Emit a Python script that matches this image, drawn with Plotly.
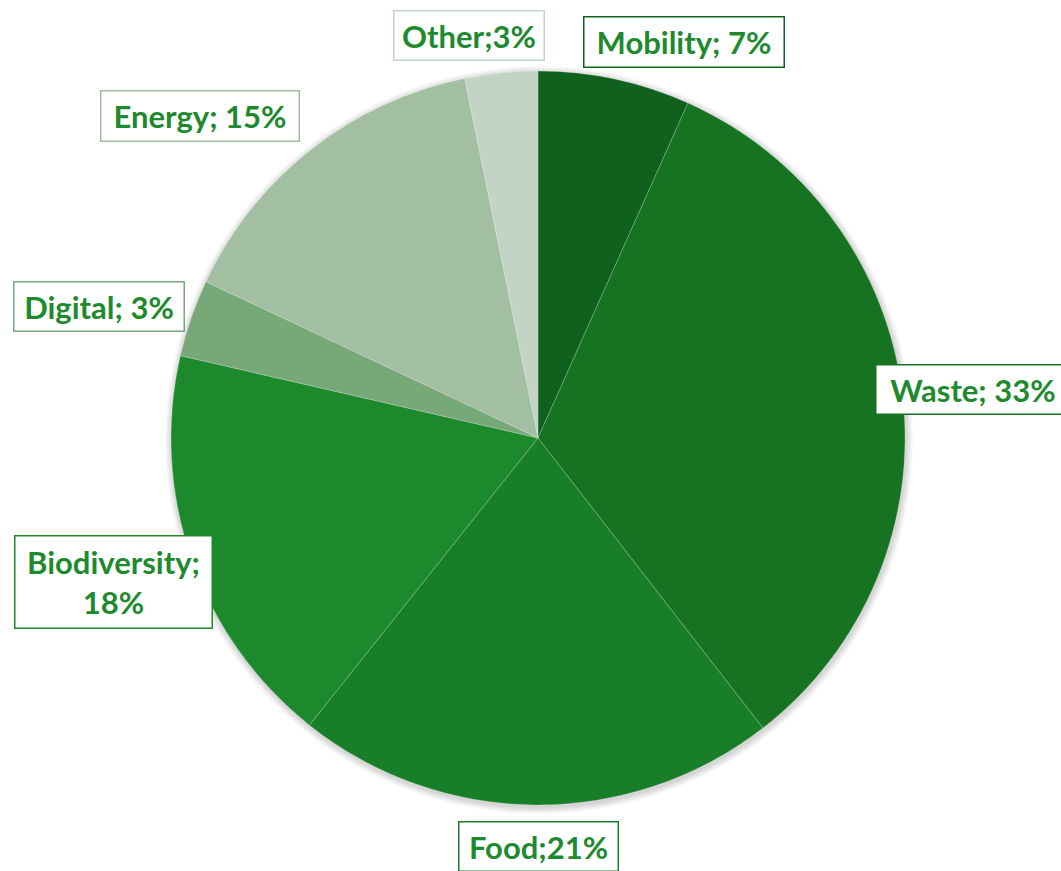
import plotly.graph_objects as go

categories = ["Mobility", "Waste", "Food", "Biodiversity", "Digital", "Energy", "Other"]
values = [6.7, 32.8, 21.2, 17.9, 3.4, 14.8, 3.2]
label_texts = ["Mobility; 7%", "Waste; 33%", "Food;21%", "Biodiversity;<br>18%",
               "Digital; 3%", "Energy; 15%", "Other;3%"]
slice_colors = ["#0F611D", "#167322", "#187E27", "#1C8A2C", "#77A877", "#A2BFA2", "#C2D5C5"]

W, H = 1061, 871
cx, cy, r = 538, 438, 367

fig = go.Figure()

# soft shadow behind the pie
for i in range(1, 8):
    rr = r + i
    fig.add_shape(type="circle", xref="paper", yref="paper", layer="below",
                  x0=(cx - rr + 1) / W, x1=(cx + rr + 1) / W,
                  y0=1 - (cy + rr + 2) / H, y1=1 - (cy - rr + 2) / H,
                  fillcolor="rgba(0,0,0,0.025)", line=dict(width=0))

fig.add_trace(go.Pie(
    labels=categories, values=values, sort=False, direction="clockwise", rotation=0,
    marker=dict(colors=slice_colors, line=dict(color="rgba(255,255,255,0.3)", width=0.7)),
    textinfo="none", hoverinfo="label+percent", showlegend=False,
    domain=dict(x=[(cx - r) / W, (cx + r) / W], y=[(H - cy - r) / H, (H - cy + r) / H]),
))

# label boxes: centre x, centre y, width, height in pixels (layout only)
label_boxes = [(684, 42, 202, 52), (973, 389, 196, 51), (538, 846, 161, 51),
               (113, 582, 199, 94), (99, 307, 172, 51), (200, 116, 200, 52), (469, 36, 152, 51)]
for txt, col, (px, py, bw, bh) in zip(label_texts, slice_colors, label_boxes):
    fig.add_annotation(
        x=px / W, y=1 - py / H, xref="paper", yref="paper", text="<b>" + txt + "</b>",
        showarrow=False, font=dict(family="Lato, 'Open Sans', sans-serif", size=31, color="#1E8A2E"),
        bgcolor="white", bordercolor=col, borderwidth=1.5, borderpad=0,
        width=bw - 3, height=bh - 3,
        xanchor="center", yanchor="middle", align="center", valign="middle",
    )

fig.update_layout(width=W, height=H, margin=dict(l=0, r=0, t=0, b=0),
                  paper_bgcolor="white", plot_bgcolor="white")
fig.write_html("out.html", config={"displayModeBar": False},
               post_script="document.body.style.margin='0';")
